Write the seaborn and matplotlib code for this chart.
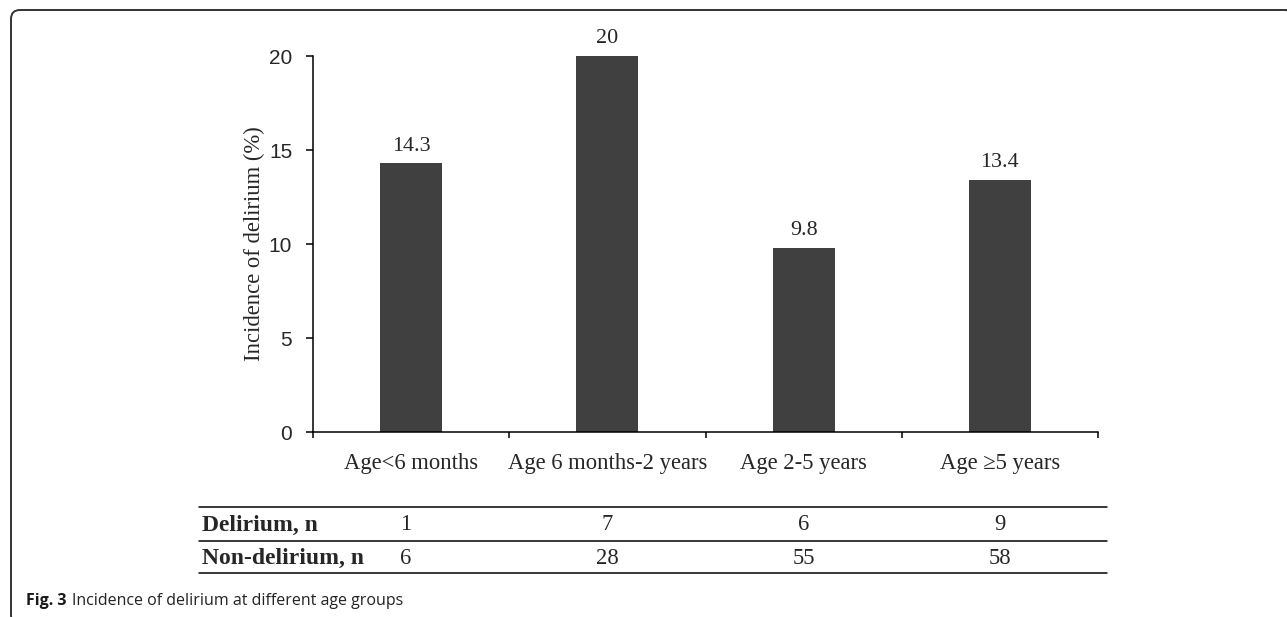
import numpy as np
import pandas as pd
import matplotlib
matplotlib.use("Agg")
import matplotlib.pyplot as plt
from matplotlib.patches import FancyBboxPatch
from matplotlib.transforms import blended_transform_factory, IdentityTransform
import seaborn as sns

groups = ["Age<6 months", "Age 6 months-2 years", "Age 2-5 years", "Age \u22655 years"]
incidence = [14.3, 20, 9.8, 13.4]
delirium_n = [1, 7, 6, 9]
non_delirium_n = [6, 28, 55, 58]
yticks = [0, 5, 10, 15, 20]

df = pd.DataFrame({"group": groups, "incidence": incidence})

sns.set_style("ticks")
serif = ["Liberation Serif", "DejaVu Serif"]
sans = ["Liberation Sans", "DejaVu Sans"]

fig = plt.figure(figsize=(12.87, 6.17), dpi=100)
W, H = 1287, 617
ax = fig.add_axes([313 / W, 1 - 432 / H, (1098 - 313) / W, (432 - 56) / H])

sns.barplot(data=df, x="group", y="incidence", color="#404040",
            width=0.316, saturation=1, ax=ax, edgecolor="none")

ax.set_xlim(-0.5, len(groups) - 0.5)
ax.set_ylim(0, 20)
ax.set_yticks(yticks)
ax.set_yticklabels([str(t) for t in yticks], family=sans, fontsize=15)
ax.set_ylabel("Incidence of delirium (%)", family=serif, fontsize=16.3, labelpad=3)
ax.set_xlabel("")
ax.set_xticks(range(len(groups)))
ax.set_xticklabels(groups, family=serif, fontsize=16.3)
ax.set_xticks(np.arange(-0.5, len(groups)), minor=True)
ax.tick_params(axis="x", which="major", length=0, pad=15)
ax.tick_params(axis="x", which="minor", length=4.5, width=1.1, color="black")
ax.tick_params(axis="y", length=5, width=1.1, pad=10, color="black")
sns.despine(ax=ax)
for s in ["left", "bottom"]:
    ax.spines[s].set_color("black")
    ax.spines[s].set_linewidth(1.1)

ax.bar_label(ax.containers[0], labels=[f"{v:g}" for v in incidence],
             padding=5.5, family=serif, fontsize=15.8)

# table under the chart
trans = blended_transform_factory(ax.transData, fig.transFigure)
for yl in [507, 541, 573]:
    fig.add_artist(plt.Line2D([199 / W, 1107 / W], [1 - yl / H] * 2,
                              color="black", lw=1.1))
rows = [("Delirium, n", delirium_n, 525), ("Non-delirium, n", non_delirium_n, 558)]
for label, vals, yr in rows:
    fig.text(202 / W, 1 - yr / H, label, family=serif, fontsize=17,
             fontweight="bold", va="center", ha="left")
    for i, v in enumerate(vals):
        xi = i - 0.03 if i == 0 else i
        fig.text(xi, 1 - yr / H, str(v), transform=trans, family=serif,
                 fontsize=16.3, va="center", ha="center")

# caption, scaled to the width it takes in the figure
cap = ["Open Sans", "DejaVu Sans"]
t1 = fig.text(26 / W, 1 - 605 / H, "Fig. 3", family=cap, fontsize=14,
              fontweight="bold", va="baseline", ha="left", color="#1a1a1a")
t2 = fig.text(0, 1 - 605 / H, "Incidence of delirium at different age groups",
              family=cap, fontsize=14, va="baseline", ha="left", color="#222222")
r = fig.canvas.get_renderer()
w_tot = t1.get_window_extent(r).width + 5 + t2.get_window_extent(r).width
fs = 14 * 379 / w_tot
t1.set_fontsize(fs)
t2.set_fontsize(fs)
bb = t1.get_window_extent(r)
t2.set_x((bb.x1 + 5) / W)

# rounded frame, right and bottom sides fall outside the picture
frame = FancyBboxPatch((11, -7), 1296 - 11, 617 - 10 + 7,
                       boxstyle="round,pad=0,rounding_size=9",
                       transform=IdentityTransform(), fill=False,
                       edgecolor="#333333", lw=1.4)
fig.add_artist(frame)

fig.savefig("out.png", dpi=100)
